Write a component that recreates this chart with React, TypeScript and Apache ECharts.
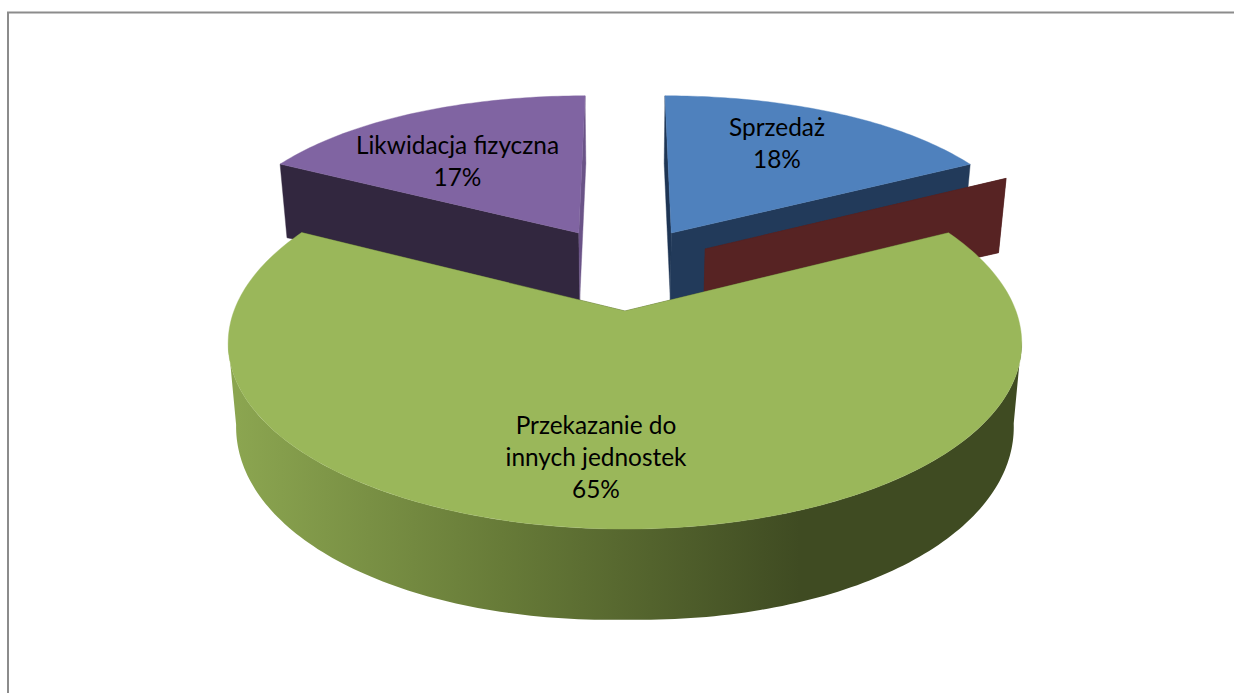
import React, { useEffect, useRef } from "react";
import * as echarts from "echarts";

const categories = ["Sprzedaż", "", "Przekazanie do\ninnych jednostek", "Likwidacja fizyczna"];
const shares = [17.51, 0, 65, 17.49];

const topColors = ["#4F81BD", "#C0504D", "#9AB75A", "#8064A2"];
const wallColors = [
  ["#1E3554", "#223A5A"],
  ["#572323", "#572323"],
  ["#3F4B22", "#3F4B22"],
  ["#32273F", "#6A5387"],
];
const stackOrder = [10, 20, 30, 0];
const labelCenters = [
  [777, 142],
  [0, 0],
  [596, 456],
  [457.5, 160],
];

// Perspective of the tilted disc (fitted to the picture)
const CX = 625, Y0 = 311, RX = 391, RY = 184.6, KX = 0.17, KY = 0.1534, EXPLODE = 0.2438;
const DEG = Math.PI / 180;

function project(u: number, v: number): number[] {
  const far = Math.max(0, v - 0.9);
  return [CX + (RX * u) / (1 + KX * v), Y0 - (RY * v) / (1 + KY * v) + 13 * far * far];
}
function drop(p: number[]): number[] {
  const dx = p[0] - CX;
  const d = 66.8 + 0.02 * Math.abs(dx) + 0.08 * Math.max(0, p[1] - 232);
  return [CX + dx * 0.98, p[1] + d];
}

const total = shares.reduce((a, b) => a + b, 0);

function renderSlice(params: any, api: any) {
  const i = params.dataIndex;
  const value = api.value(0);
  let before = 0;
  for (let k = 0; k < i; k++) before += shares[k];
  const start = (before / total) * 360;
  const end = start + (value / total) * 360;
  const mid = ((start + end) / 2) * DEG;
  const ou = EXPLODE * Math.sin(mid);
  const ov = EXPLODE * Math.cos(mid) + EXPLODE;
  const rim = (a: number) => project(ou + Math.sin(a * DEG), ov + Math.cos(a * DEG));
  const apex = project(ou, ov);
  const base = stackOrder[i];
  const children: any[] = [];
  const poly = (points: number[][], fill: any, z2: number) => ({
    type: "polygon",
    z2,
    shape: { points },
    style: { fill, stroke: typeof fill === "string" ? fill : undefined, lineWidth: typeof fill === "string" ? 0.4 : 0 },
  });
  const wall = (a: number, fill: string, z: number) => {
    const p = rim(a);
    children.push(poly([apex, p, drop(p), drop(apex)], fill, base + z));
  };
  wall(start, wallColors[i][0], 1);
  wall(end, wallColors[i][1], 1);

  const frontFrom = Math.max(start, 98.8);
  const frontTo = Math.min(end, 261.2);
  if (frontTo > frontFrom) {
    const upper: number[][] = [];
    for (let a = frontFrom; a <= frontTo + 0.001; a += 1) upper.push(rim(a));
    const lower = upper.map(drop).reverse();
    const fill = new echarts.graphic.LinearGradient(
      237, 0, 800, 0,
      [
        { offset: 0, color: "#8BA550" },
        { offset: 0.47, color: "#677B38" },
        { offset: 1, color: "#3F4B22" },
      ],
      true
    );
    children.push(poly(upper.concat(lower), fill, base + 2));
  }
  if (value > 0) {
    const top: number[][] = [apex];
    for (let a = start; a < end; a += 1) top.push(rim(a));
    top.push(rim(end));
    children.push(poly(top, topColors[i], base + 3));
    const [lx, ly] = labelCenters[i];
    children.push({
      type: "text",
      z2: 100,
      style: {
        text: categories[i] + "\n" + Math.round(value) + "%",
        x: lx,
        y: ly,
        align: "center",
        verticalAlign: "middle",
        fontFamily: "Lato",
        fontSize: 24.4,
        lineHeight: 32,
        fill: "#000000",
      },
    });
  }
  return { type: "group", children };
}

export default function App() {
  const ref = useRef<HTMLDivElement>(null);
  useEffect(() => {
    const chart = echarts.init(ref.current!, undefined, { renderer: "svg" });
    chart.setOption({
      animation: false,
      backgroundColor: "#ffffff",
      graphic: [
        {
          type: "rect",
          z: 0,
          shape: { x: 8, y: 12.5, width: 1240, height: 700 },
          style: { fill: "none", stroke: "#8C8C8C", lineWidth: 2 },
        },
      ],
      series: [
        {
          type: "custom",
          coordinateSystem: "none",
          renderItem: renderSlice,
          data: shares.map((v, i) => ({ name: categories[i], value: [v] })),
          silent: true,
        },
      ],
    });
    return () => chart.dispose();
  }, []);
  return <div ref={ref} style={{ position: "fixed", left: 0, top: 0, width: 1234, height: 693 }} />;
}
